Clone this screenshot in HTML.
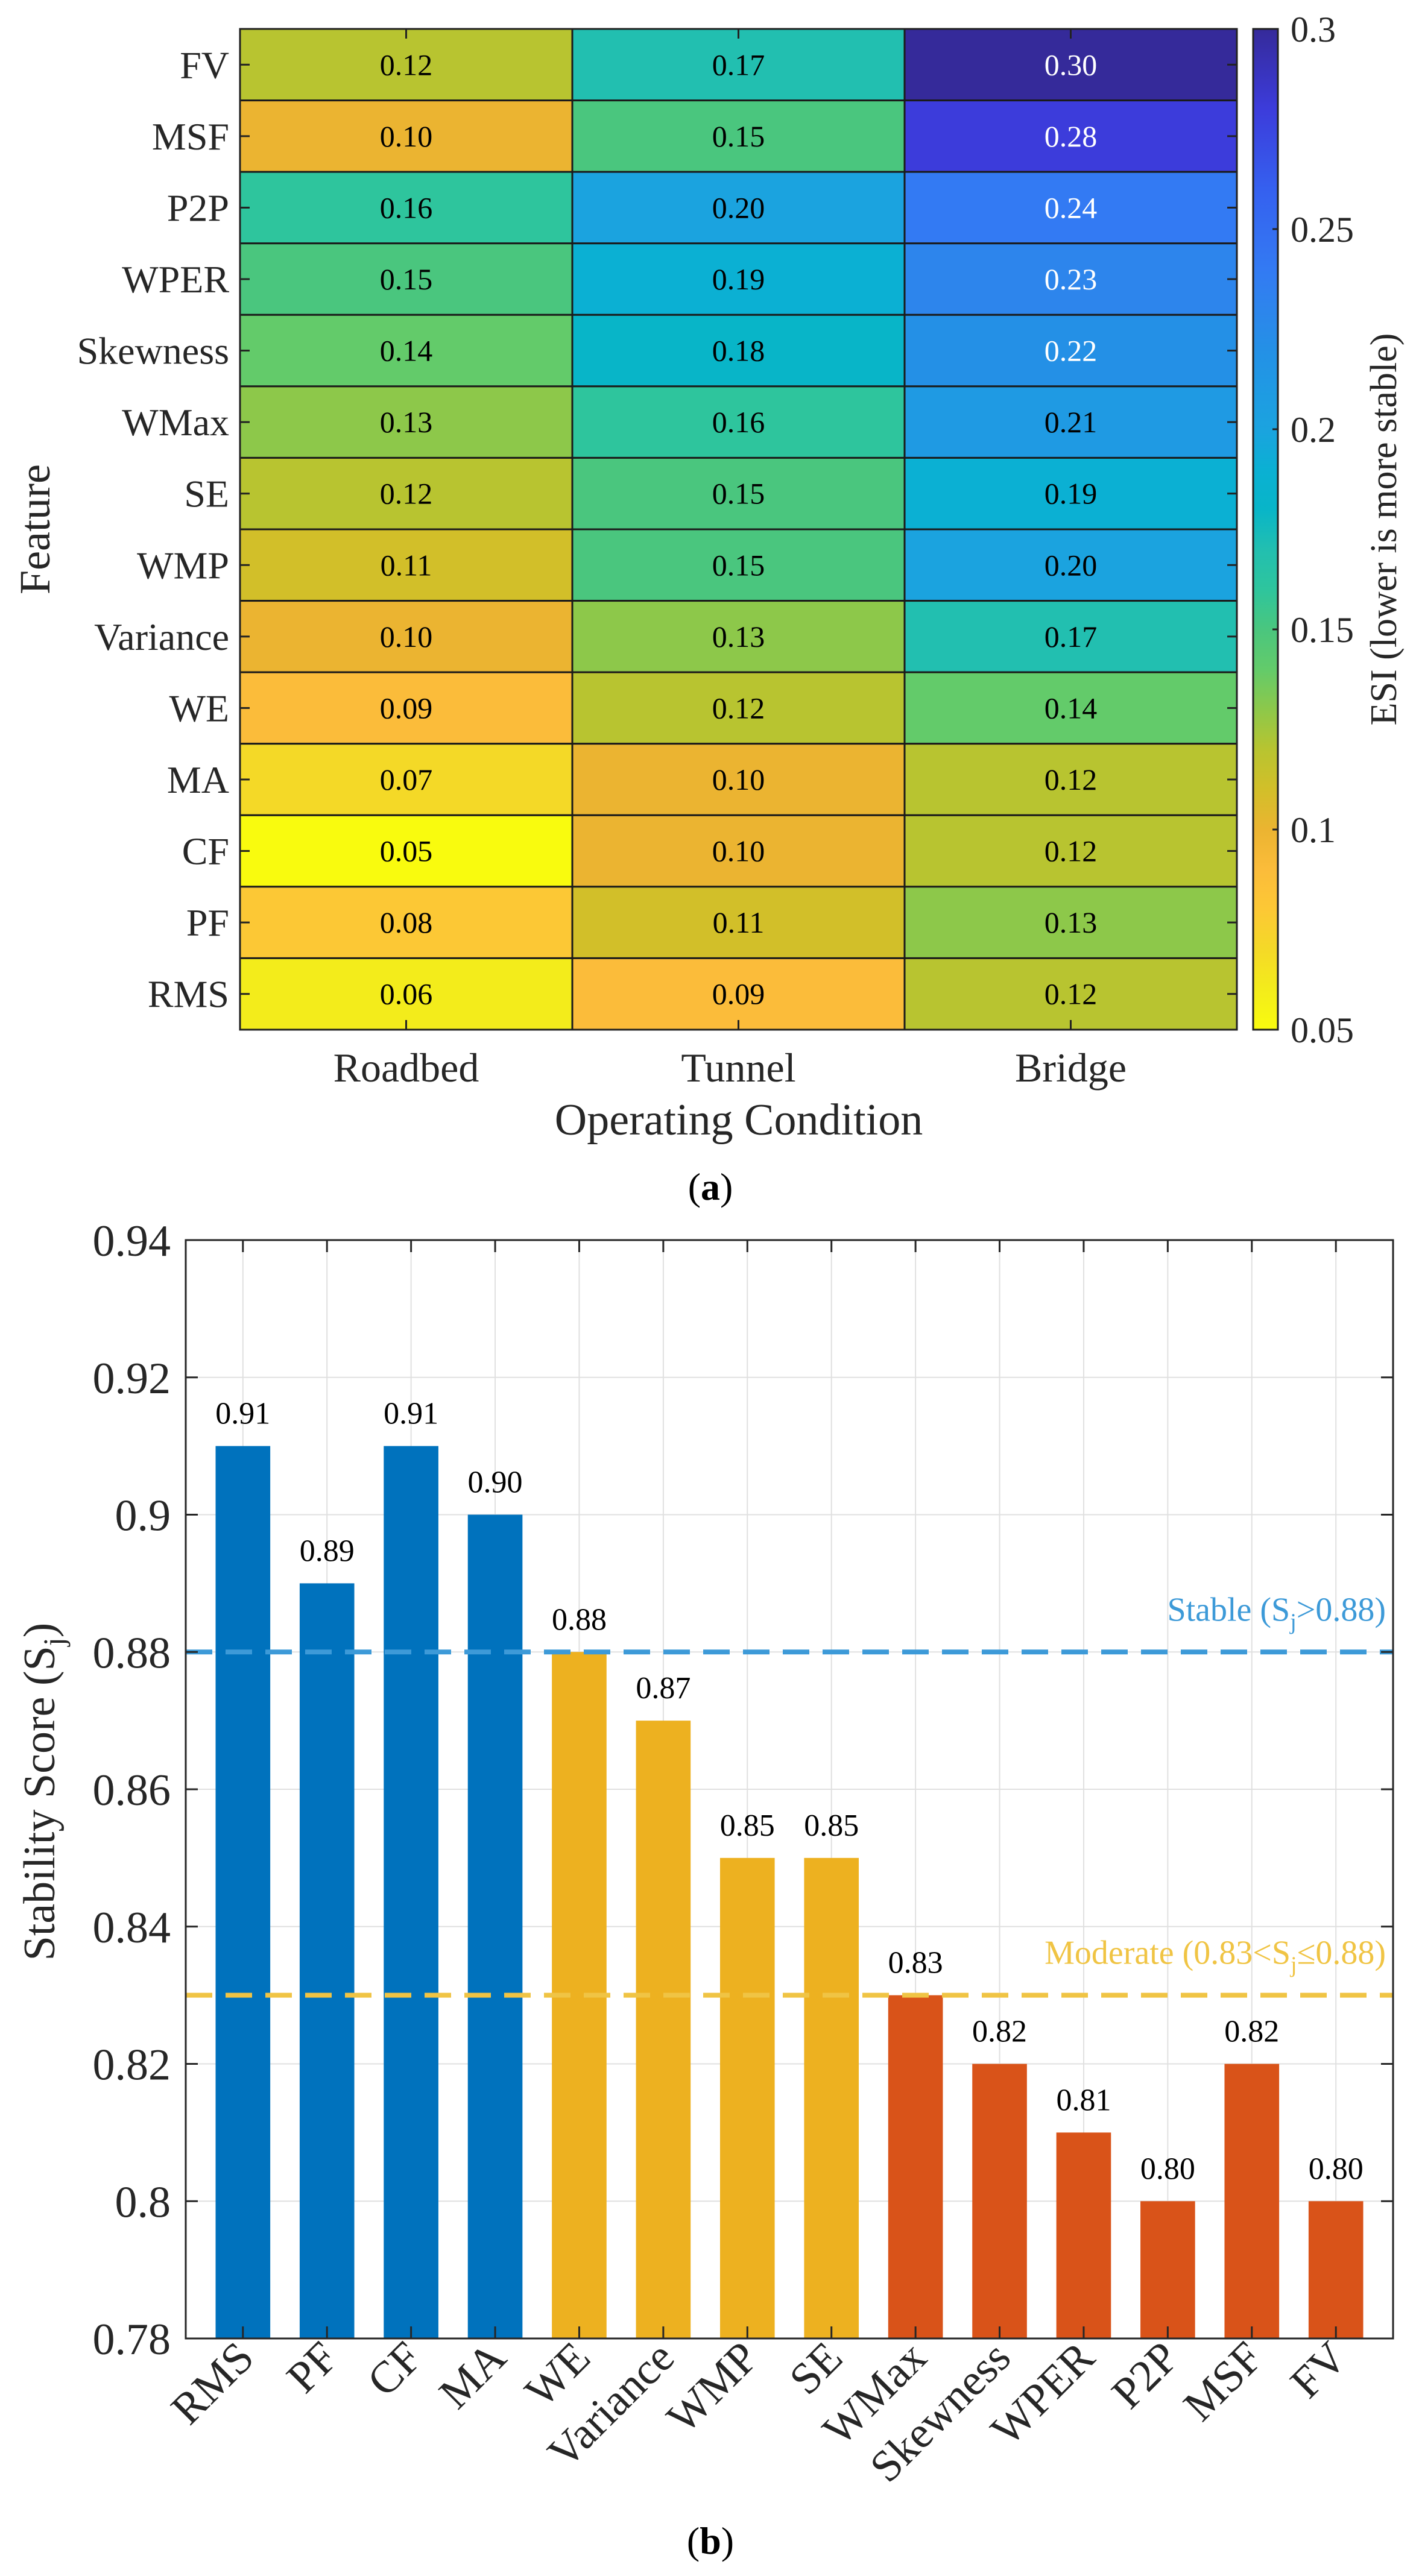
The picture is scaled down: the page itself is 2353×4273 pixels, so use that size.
<!DOCTYPE html>
<html><head><meta charset="utf-8"><style>
html,body{margin:0;padding:0;background:#fff;}
svg{display:block;font-family:"Liberation Serif","Times New Roman",serif;}
svg text{font-family:"Liberation Serif","Times New Roman",serif !important;}
</style></head><body>
<svg id="fig" width="2353" height="4273" viewBox="0 0 2353 4273" xmlns="http://www.w3.org/2000/svg" font-family="Liberation Serif, serif">
<defs><linearGradient id="cbgrad" x1="0" y1="0" x2="0" y2="1"></linearGradient></defs>
<g id="heat"></g>
<g id="bars"></g>
</svg>
<script>
// ---- Heatmap data ----
const hmRows = ["FV","MSF","P2P","WPER","Skewness","WMax","SE","WMP","Variance","WE","MA","CF","PF","RMS"];
const hmCols = ["Roadbed","Tunnel","Bridge"];
const esiRoadbed = [0.12,0.10,0.16,0.15,0.14,0.13,0.12,0.11,0.10,0.09,0.07,0.05,0.08,0.06];
const esiTunnel  = [0.17,0.15,0.20,0.19,0.18,0.16,0.15,0.15,0.13,0.12,0.10,0.10,0.11,0.09];
const esiBridge  = [0.30,0.28,0.24,0.23,0.22,0.21,0.19,0.20,0.17,0.14,0.12,0.12,0.13,0.12];
const cbTicks = [0.05,0.1,0.15,0.2,0.25,0.3];
const cbTickLabels = ["0.05","0.1","0.15","0.2","0.25","0.3"];
// ---- Bar data ----
const barCats = ["RMS","PF","CF","MA","WE","Variance","WMP","SE","WMax","Skewness","WPER","P2P","MSF","FV"];
const barVals = [0.91,0.89,0.91,0.90,0.88,0.87,0.85,0.85,0.83,0.82,0.81,0.80,0.82,0.80];
const barGroup = ["stable","stable","stable","stable","moderate","moderate","moderate","moderate","unstable","unstable","unstable","unstable","unstable","unstable"];
const yTicks = [0.78,0.80,0.82,0.84,0.86,0.88,0.90,0.92,0.94];
const yTickLabels = ["0.78","0.8","0.82","0.84","0.86","0.88","0.9","0.92","0.94"];
const stableThreshold = 0.88;
const moderateThreshold = 0.83;

const NS="http://www.w3.org/2000/svg";
function mk(tag, parent, attrs, text){
  const e=document.createElementNS(NS,tag);
  for(const k in attrs) e.setAttribute(k,attrs[k]);
  if(text!==undefined) e.textContent=text;
  parent.appendChild(e); return e;
}
const cmap=[[0,'#352a9a'],[0.08,'#3c3cdb'],[0.16,'#3560ef'],[0.24,'#337af3'],[0.28,'#2d85ec'],[0.32,'#2490e6'],[0.36,'#1f9ae3'],[0.40,'#1ba3df'],[0.44,'#0bb0d3'],[0.48,'#08b5c8'],[0.52,'#22bfb0'],[0.56,'#2ec59d'],[0.60,'#4ac67e'],[0.64,'#63cb6a'],[0.68,'#8dc84a'],[0.72,'#b8c430'],[0.76,'#d2bf29'],[0.80,'#ebb431'],[0.84,'#fbbc3a'],[0.88,'#fcc835'],[0.92,'#f4d927'],[0.96,'#f3ec1b'],[1,'#f9fb0e']];
function hex2rgb(h){return [parseInt(h.substr(1,2),16),parseInt(h.substr(3,2),16),parseInt(h.substr(5,2),16)];}
function colorAt(t){
  t=Math.max(0,Math.min(1,t));
  for(let i=0;i<cmap.length-1;i++){
    const a=cmap[i],b=cmap[i+1];
    if(t<=b[0]){const f=(t-a[0])/(b[0]-a[0]);const ca=hex2rgb(a[1]),cb=hex2rgb(b[1]);
      return 'rgb('+ca.map((v,j)=>Math.round(v+(cb[j]-v)*f)).join(',')+')';}
  }
  return cmap[cmap.length-1][1];
}
const cmin=0.05,cmax=0.3;
function valColor(v){return colorAt(1-(v-cmin)/(cmax-cmin));}

// ===== Heatmap =====
const H=document.getElementById('heat');
const hx0=398,hx1=2051,hy0=48,hy1=1708;
const cw=(hx1-hx0)/hmCols.length, rh=(hy1-hy0)/hmRows.length;
const colX=i=>hx0+i*cw, rowY=i=>hy0+i*rh;
const esiCols=[esiRoadbed,esiTunnel,esiBridge];
esiCols.forEach((col,ci)=>{
  col.forEach((v,ri)=>{
    const r=mk('rect',H,{x:colX(ci),y:rowY(ri),width:cw,height:rh,fill:valColor(v),stroke:'#1a1a1a','stroke-width':3});
    
    
    const t=mk('text',H,{x:colX(ci)+cw/2,y:rowY(ri)+rh/2+17,'text-anchor':'middle','font-size':50,fill:v>0.215?'#fff':'#000'},v.toFixed(2));
    
    
  });
});
const hb=mk('rect',H,{x:hx0,y:hy0,width:hx1-hx0,height:hy1-hy0,fill:'none',stroke:'#222','stroke-width':3});


hmRows.forEach((r,ri)=>{
  const cy=rowY(ri)+rh/2;
  mk('line',H,{x1:hx0,y1:cy,x2:hx0+16,y2:cy,stroke:'#222','stroke-width':3});
  mk('line',H,{x1:hx1,y1:cy,x2:hx1-16,y2:cy,stroke:'#222','stroke-width':3});
  const t=mk('text',H,{x:380,y:cy+22,'text-anchor':'end','font-size':64,fill:'#262626'},r);
  
  
});
hmCols.forEach((c,ci)=>{
  const cx=colX(ci)+cw/2;
  mk('line',H,{x1:cx,y1:hy0,x2:cx,y2:hy0+16,stroke:'#222','stroke-width':3});
  mk('line',H,{x1:cx,y1:hy1,x2:cx,y2:hy1-16,stroke:'#222','stroke-width':3});
  const t=mk('text',H,{x:cx,y:1794,'text-anchor':'middle','font-size':68,fill:'#262626'},c);
  
  
});
let t1=mk('text',H,{x:1225,y:1882,'text-anchor':'middle','font-size':74,fill:'#262626'},'Operating Condition');


t1=mk('text',H,{transform:'translate(82,878) rotate(-90)','text-anchor':'middle','font-size':72,fill:'#262626'},'Feature');


const grad=document.getElementById('cbgrad');
cmap.forEach(a=>mk('stop',grad,{offset:a[0],'stop-color':a[1]}));
const cbx0=2078,cbx1=2119;
const cb=mk('rect',H,{x:cbx0,y:hy0,width:cbx1-cbx0,height:hy1-hy0,fill:'url(#cbgrad)',stroke:'#222','stroke-width':3});


const cbY=v=>hy1-(v-cmin)/(cmax-cmin)*(hy1-hy0);
cbTicks.forEach((v,i)=>{
  const y=cbY(v);
  mk('line',H,{x1:cbx1,y1:y,x2:cbx1-9,y2:y,stroke:'#222','stroke-width':3});
  const t=mk('text',H,{x:2140,y:y+21,'font-size':60,fill:'#262626'},cbTickLabels[i]);
  
  
});
t1=mk('text',H,{transform:'translate(2315,878) rotate(-90)','text-anchor':'middle','font-size':62,fill:'#262626'},'ESI (lower is more stable)');


t1=mk('text',H,{x:1178,y:1990,'text-anchor':'middle','font-size':64,fill:'#000'},'');
t1.innerHTML='(<tspan font-weight="bold">a</tspan>)';



// ===== Bar chart =====
const B=document.getElementById('bars');
const bx0=308,bx1=2310,by0=2057,by1=3879;
const xmin=0.32,xmax=14.68,ymin=0.78,ymax=0.94;
const X=i=>bx0+((i+1)-xmin)/(xmax-xmin)*(bx1-bx0);
const Y=v=>by1-(v-ymin)/(ymax-ymin)*(by1-by0);
const unit=(bx1-bx0)/(xmax-xmin);
yTicks.forEach(v=>{mk('line',B,{x1:bx0,y1:Y(v),x2:bx1,y2:Y(v),stroke:'#e0e0e0','stroke-width':2});});
barCats.forEach((c,i)=>{mk('line',B,{x1:X(i),y1:by0,x2:X(i),y2:by1,stroke:'#e0e0e0','stroke-width':2});});
const gcol={stable:'#0072bd',moderate:'#edb120',unstable:'#d95319'};
barCats.forEach((c,i)=>{
  const v=barVals[i];
  const r=mk('rect',B,{x:X(i)-0.325*unit,y:Y(v),width:0.65*unit,height:by1-Y(v),fill:gcol[barGroup[i]]});
  
  
  const t=mk('text',B,{x:X(i),y:Y(v)-37,'text-anchor':'middle','font-size':52,fill:'#000'},v.toFixed(2));
  
  
  mk('line',B,{x1:X(i),y1:by1,x2:X(i),y2:by1-20,stroke:'#262626','stroke-width':3});
  mk('line',B,{x1:X(i),y1:by0,x2:X(i),y2:by0+20,stroke:'#262626','stroke-width':3});
  const lx=X(i)+22,ly=3915;
  const tl=mk('text',B,{transform:'translate('+lx+','+ly+') rotate(-45)','text-anchor':'end','font-size':74,fill:'#262626'},c);
  
  
});
let ln=mk('line',B,{x1:bx0,y1:Y(stableThreshold),x2:bx1,y2:Y(stableThreshold),stroke:'#3d9ad8','stroke-width':8,'stroke-dasharray':'44 22'});


ln=mk('line',B,{x1:bx0,y1:Y(moderateThreshold),x2:bx1,y2:Y(moderateThreshold),stroke:'#f0c444','stroke-width':8,'stroke-dasharray':'44 22'});


let lt=mk('text',B,{x:2298,y:Y(stableThreshold)-52,'text-anchor':'end','font-size':56,fill:'#3d9ad8'},'');
lt.innerHTML='Stable (S<tspan font-size="38" dy="14">j</tspan><tspan dy="-14">&gt;0.88)</tspan>';


lt=mk('text',B,{x:2298,y:Y(moderateThreshold)-52,'text-anchor':'end','font-size':56,fill:'#f0c444'},'');
lt.innerHTML='Moderate (0.83&lt;S<tspan font-size="38" dy="14">j</tspan><tspan dy="-14">≤0.88)</tspan>';


const fr=mk('rect',B,{x:bx0,y:by0,width:bx1-bx0,height:by1-by0,fill:'none',stroke:'#262626','stroke-width':3});


yTicks.forEach((v,i)=>{
  mk('line',B,{x1:bx0,y1:Y(v),x2:bx0+20,y2:Y(v),stroke:'#262626','stroke-width':3});
  mk('line',B,{x1:bx1,y1:Y(v),x2:bx1-20,y2:Y(v),stroke:'#262626','stroke-width':3});
  const t=mk('text',B,{x:283,y:Y(v)+26,'text-anchor':'end','font-size':74,fill:'#262626'},yTickLabels[i]);
  
  
});
lt=mk('text',B,{transform:'translate(90,2972) rotate(-90)','text-anchor':'middle','font-size':74,fill:'#262626'},'');
lt.innerHTML='Stability Score (S<tspan font-size="50" dy="16">j</tspan><tspan dy="-16">)</tspan>';


lt=mk('text',B,{x:1178,y:4236,'text-anchor':'middle','font-size':64,fill:'#000'},'');
lt.innerHTML='(<tspan font-weight="bold">b</tspan>)';


</script>
</body></html>
